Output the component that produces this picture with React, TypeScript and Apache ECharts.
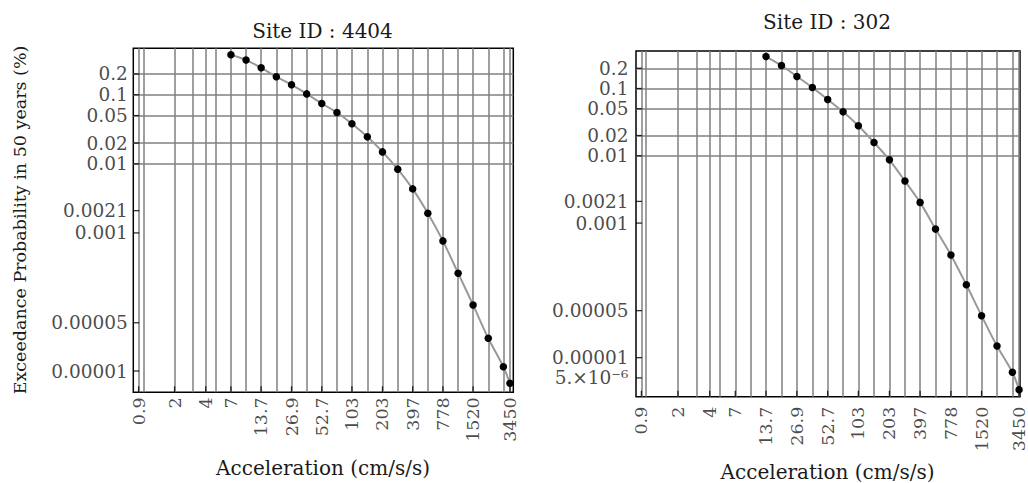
import React, { useEffect, useRef } from "react";
import * as echarts from "echarts";

// ---- data ----
const accelLeft = [7, 9.8, 13.7, 19.2, 26.9, 37.7, 52.7, 73.8, 103, 145, 203, 285, 397, 556, 778, 1090, 1520, 2130, 2980, 3450];
const probLeft = [0.38, 0.318, 0.246, 0.182, 0.14, 0.103, 0.0748, 0.0554, 0.038, 0.0246, 0.0149, 0.00838, 0.00434, 0.00193, 0.000766, 0.000261, 0.0000906, 0.0000298, 0.0000115, 0.00000664];

const accelRight = [13.7, 19.2, 26.9, 37.7, 52.7, 73.8, 103, 145, 203, 285, 397, 556, 778, 1090, 1520, 2130, 2980, 3450];
const probRight = [0.299, 0.22, 0.151, 0.1035, 0.0687, 0.045, 0.0279, 0.0158, 0.00871, 0.00421, 0.00203, 0.000814, 0.000335, 0.000121, 0.000042, 0.0000149, 0.00000607, 0.00000335];

const xTickValues = [0.9, 2, 4, 7, 13.7, 26.9, 52.7, 103, 203, 397, 778, 1520, 3450];
const xTickLabels = ["0.9", "2", "4", "7", "13.7", "26.9", "52.7", "103", "203", "397", "778", "1520", "3450"];
const xExtraGrid = [1, 3, 5];

const yTicksLeft = [0.2, 0.1, 0.05, 0.02, 0.01, 0.0021, 0.001, 0.00005, 0.00001];
const yTickLabelsLeft = ["0.2", "0.1", "0.05", "0.02", "0.01", "0.0021", "0.001", "0.00005", "0.00001"];
const yTicksRight = [0.2, 0.1, 0.05, 0.02, 0.01, 0.0021, 0.001, 0.00005, 0.00001, 0.000005];
const yTickLabelsRight = ["0.2", "0.1", "0.05", "0.02", "0.01", "0.0021", "0.001", "0.00005", "0.00001", "5.×10⁻⁶"];

const titles = ["Site ID : 4404", "Site ID : 302"];
const xName = "Acceleration (cm/s/s)";
const yName = "Exceedance Probability in 50 years (%)";

const xRangeLeft = [0.8, 3715];
const yRangeLeft = [4.92e-6, 0.471];
const xRangeRight = [0.8, 3520];
const yRangeRight = [2.63e-6, 0.361];

const FONT = "DejaVu Serif";
const TXT = "#1a1a1a";
const GRIDC = "#808080";

function panelSeries(
  idx: number,
  accel: number[],
  prob: number[],
  yTicks: number[],
  yLabels: string[],
  xr: number[],
  yr: number[],
  xLabelDist: number,
  yLabelDist: number
) {
  const xGrid = Array.from(new Set([...xTickValues, ...xExtraGrid, ...accel, ...accelLeft])).sort((a, b) => a - b);
  return [
    {
      type: "line",
      xAxisIndex: idx,
      yAxisIndex: idx,
      data: accel.map((a, i) => [a, prob[i]]),
      smooth: 0.3,
      symbol: "circle",
      symbolSize: 7.5,
      itemStyle: { color: "#000" },
      lineStyle: { color: "#999999", width: 2 },
      z: 10,
      silent: true,
      markLine: {
        z: 1,
        silent: true,
        symbol: ["none", "none"],
        label: { show: false },
        lineStyle: { color: GRIDC, width: 1.5, type: "solid" },
        emphasis: { disabled: true },
        data: [
          ...xGrid.map((v) => ({ xAxis: v })),
          ...yTicks.map((v) => ({ yAxis: v })),
        ],
      },
    },
    {
      type: "scatter",
      xAxisIndex: idx,
      yAxisIndex: idx,
      data: yTicks.map((v) => [xr[0], v]),
      symbol: "rect",
      symbolSize: [6, 1.3],
      symbolOffset: [3, 0],
      itemStyle: { color: "#000" },
      clip: false,
      silent: true,
      z: 10,
      label: {
        show: true,
        position: "left",
        distance: yLabelDist,
        formatter: (p: any) => yLabels[p.dataIndex],
        fontSize: 18.5,
        lineHeight: 17,
        fontFamily: FONT,
        color: TXT,
      },
    },
    {
      type: "scatter",
      xAxisIndex: idx,
      yAxisIndex: idx,
      data: xTickValues.map((v) => [v, yr[0]]),
      symbol: "rect",
      symbolSize: [1.3, 6],
      symbolOffset: [0, -3],
      itemStyle: { color: "#000" },
      clip: false,
      silent: true,
      z: 10,
      label: {
        show: true,
        position: "bottom",
        distance: xLabelDist,
        rotate: 90,
        align: "right",
        verticalAlign: "middle",
        formatter: (p: any) => xTickLabels[p.dataIndex],
        fontSize: 17.5,
        fontFamily: FONT,
        color: TXT,
      },
    },
  ];
}

function axis(gridIndex: number, r: number[]) {
  return {
    type: "log",
    logBase: 10,
    gridIndex,
    min: r[0],
    max: r[1],
    axisLine: { show: false },
    axisTick: { show: false },
    axisLabel: { show: false },
    splitLine: { show: false },
  };
}

function txt(text: string, x: number, y: number, size: number, rotation = 0) {
  return {
    type: "text",
    x,
    y,
    rotation,
    silent: true,
    style: {
      text,
      fontSize: size,
      fontFamily: FONT,
      fill: TXT,
      align: "center",
      verticalAlign: "middle",
      textAlign: "center",
      textVerticalAlign: "middle",
    },
  };
}

export default function App() {
  const ref = useRef<HTMLDivElement>(null);
  useEffect(() => {
    if (!ref.current) return;
    const chart = echarts.init(ref.current, undefined, { renderer: "svg" });
    chart.setOption({
      animation: false,
      backgroundColor: "#fff",
      grid: [
        { left: 133.3, top: 48.3, width: 380, height: 344, show: true, borderColor: "#000", borderWidth: 1.5, backgroundColor: "transparent" },
        { left: 636, top: 51, width: 384, height: 345.7, show: true, borderColor: "#000", borderWidth: 1.5, backgroundColor: "transparent" },
      ],
      xAxis: [axis(0, xRangeLeft), axis(1, xRangeRight)],
      yAxis: [axis(0, yRangeLeft), axis(1, yRangeRight)],
      series: [
        ...panelSeries(0, accelLeft, probLeft, yTicksLeft, yTickLabelsLeft, xRangeLeft, yRangeLeft, 5, 5.5),
        ...panelSeries(1, accelRight, probRight, yTicksRight, yTickLabelsRight, xRangeRight, yRangeRight, 10, 7.5),
      ],
      graphic: [
        txt(titles[0], 322.5, 31, 20),
        txt(titles[1], 827, 22, 20),
        txt(xName, 323, 468, 20),
        txt(xName, 827.5, 472, 20),
        txt(yName, 20, 220, 17.5, Math.PI / 2),
      ],
    });
    return () => chart.dispose();
  }, []);
  return (
    <div
      ref={ref}
      style={{ position: "fixed", left: 0, top: 0, width: 1028, height: 483 }}
    />
  );
}
